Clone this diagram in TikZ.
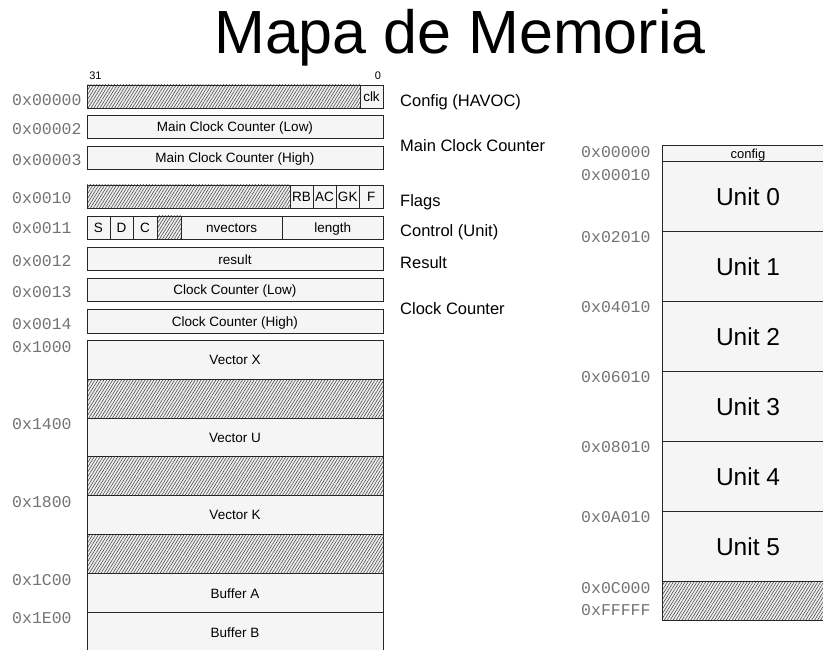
\documentclass[tikz,border=0pt]{standalone}
\usepackage{fontspec}
\setmainfont{Liberation Sans}
\newfontfamily\addrfont{Liberation Mono}
\usetikzlibrary{patterns.meta}

% one register / memory cell: style, name, corners, text
\newcommand\memcell[7]{%
  \draw[#1] (#3,#4) rectangle (#5,#6);
  \node[celltext] (#2) at ({(#3+#5)/2},{(#4+#6)/2}) {#7};}

\begin{document}
\begin{tikzpicture}[x=1pt,y=-1pt,
  cell/.style={draw=black!85, fill=black!4, line width=0.9pt},
  hatched/.style={draw=black!85, line width=0.9pt,
    preaction={fill=black!6},
    pattern={Lines[angle=58,distance=2.5pt,line width=0.6pt]},
    pattern color=black!70},
  celltext/.style={font=\fontsize{13.5}{16}\selectfont, inner sep=0pt,
    text height=9.7pt, text depth=0pt},
  unittext/.style={font=\fontsize{24.5}{28}\selectfont, inner sep=0pt,
    text height=17.5pt, text depth=0pt},
  addr/.style={font=\addrfont\fontsize{16.5}{18}\selectfont, text=black!55,
    anchor=base west, inner sep=0pt},
  side/.style={font=\fontsize{16.5}{20}\selectfont, anchor=base west, inner sep=0pt},
  bitidx/.style={font=\fontsize{11}{13}\selectfont, anchor=base, inner sep=0pt}]

\useasboundingbox (0,0) rectangle (823,650);
\clip (0,0) rectangle (823,650);

% title
\node[font=\fontsize{61}{66}\selectfont, anchor=base, inner sep=0pt] (title) at (460,54) {Mapa de Memoria};

% bit indices
\node[bitidx] (b31) at (95.5,80) {31};
\node[bitidx] (b0) at (378,80) {0};

% ---------- register map (left) ----------
\draw[hatched] (87,85) rectangle (360,108.3);
\memcell{cell}{clk}{360}{85}{383}{108.3}{clk}
\memcell{cell}{mcl}{87}{115.7}{383}{138.3}{Main Clock Counter (Low)}
\memcell{cell}{mch}{87}{146}{383}{169.3}{Main Clock Counter (High)}

\draw[hatched] (87,185) rectangle (290,208.3);
\memcell{cell}{rb}{290}{185}{313}{208.3}{RB}
\memcell{cell}{ac}{313}{185}{336}{208.3}{AC}
\memcell{cell}{gk}{336}{185}{359.5}{208.3}{GK}
\memcell{cell}{fl}{359.5}{185}{383}{208.3}{F}

\memcell{cell}{cs}{87}{216}{110}{239}{S}
\memcell{cell}{cd}{110}{216}{133}{239}{D}
\memcell{cell}{cc}{133}{216}{157}{239}{C}
\draw[hatched] (157,216) rectangle (181,239);
\memcell{cell}{nvec}{181}{216}{282.3}{239}{nvectors}
\memcell{cell}{len}{282.3}{216}{383}{239}{length}

\memcell{cell}{res}{87}{247.7}{383}{270.7}{result}
\memcell{cell}{ccl}{87}{278.3}{383}{301.5}{Clock Counter (Low)}
\memcell{cell}{cch}{87}{309.3}{383}{333}{Clock Counter (High)}

\memcell{cell}{vx}{87}{340}{383}{379.3}{Vector X}
\draw[hatched] (87,379.3) rectangle (383,418.3);
\memcell{cell}{vu}{87}{418.3}{383}{456.7}{Vector U}
\draw[hatched] (87,456.7) rectangle (383,495.7);
\memcell{cell}{vk}{87}{495.7}{383}{534.3}{Vector K}
\draw[hatched] (87,534.3) rectangle (383,573.7);
\memcell{cell}{bufa}{87}{573.7}{383}{612.7}{Buffer A}
\memcell{cell}{bufb}{87}{612.7}{383}{652}{Buffer B}

% addresses (left)
\node[addr] (a0) at (12,105.7) {0x00000};
\node[addr] (a2) at (12,135) {0x00002};
\node[addr] (a3) at (12,165.5) {0x00003};
\node[addr] (a10) at (12,203.3) {0x0010};
\node[addr] (a11) at (12,234) {0x0011};
\node[addr] (a12) at (12,266.5) {0x0012};
\node[addr] (a13) at (12,298) {0x0013};
\node[addr] (a14) at (12,329) {0x0014};
\node[addr] (a1000) at (12,352) {0x1000};
\node[addr] (a1400) at (12,429.3) {0x1400};
\node[addr] (a1800) at (12,507.3) {0x1800};
\node[addr] (a1c00) at (12,585) {0x1C00};
\node[addr] (a1e00) at (12,623.7) {0x1E00};

% register descriptions
\node[side] (dcfg) at (400,107) {Config (HAVOC)};
\node[side] (dmcc) at (400,152) {Main Clock Counter};
\node[side] (dflg) at (400,206.7) {Flags};
\node[side] (dctl) at (400,236.7) {Control (Unit)};
\node[side] (dres) at (400,268.3) {Result};
\node[side] (dcc) at (400,314.3) {Clock Counter};

% ---------- unit map (right) ----------
\draw[cell] (662,145.7) rectangle (834,161.7);
\node[celltext, font=\fontsize{13}{15}\selectfont] (config) at (748,153.7) {config};
\memcell{cell}{u0}{662}{161.7}{834}{231.3}{}
\node[unittext] at (u0) {Unit 0};
\memcell{cell}{u1}{662}{231.3}{834}{301.3}{}
\node[unittext] at (u1) {Unit 1};
\memcell{cell}{u2}{662}{301.3}{834}{371.3}{}
\node[unittext] at (u2) {Unit 2};
\memcell{cell}{u3}{662}{371.3}{834}{441.5}{}
\node[unittext] at (u3) {Unit 3};
\memcell{cell}{u4}{662}{441.5}{834}{511.7}{}
\node[unittext] at (u4) {Unit 4};
\memcell{cell}{u5}{662}{511.7}{834}{581.7}{}
\node[unittext] at (u5) {Unit 5};
\draw[hatched] (662,581.7) rectangle (834,620);

% addresses (right)
\node[addr] (r0) at (581,157.7) {0x00000};
\node[addr] (r10) at (581,181) {0x00010};
\node[addr] (r2010) at (581,242.3) {0x02010};
\node[addr] (r4010) at (581,312.3) {0x04010};
\node[addr] (r6010) at (581,382.3) {0x06010};
\node[addr] (r8010) at (581,452.3) {0x08010};
\node[addr] (ra010) at (581,522) {0x0A010};
\node[addr] (rc000) at (581,593.3) {0x0C000};
\node[addr] (rfff) at (581,615) {0xFFFFF};
\end{tikzpicture}
\end{document}
